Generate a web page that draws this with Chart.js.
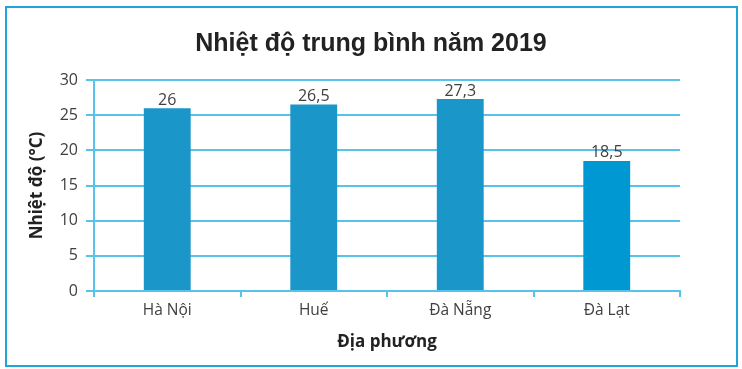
<!DOCTYPE html>
<html>
<head>
<meta charset="utf-8">
<script src="https://cdn.jsdelivr.net/npm/chart.js@4/dist/chart.umd.min.js"></script>
<style>
  html, body { margin: 0; padding: 0; background: #fff; }
  #wrap { position: relative; width: 742px; height: 369px; }
  #frame { position: absolute; left: 5px; top: 6px; width: 729px; height: 357px; border: 2px solid #1fa5d8; pointer-events: none; }
</style>
</head>
<body>
<div id="wrap">
  <canvas id="chart" width="742" height="369"></canvas>
  <div id="frame"></div>
</div>
<script>
// Average temperature 2019 by location
const categories = ["Hà Nội", "Huế", "Đà Nẵng", "Đà Lạt"];
const temps = [26, 26.5, 27.3, 18.5];
const barColors = ["#1b96c8", "#1b96c8", "#1b96c8", "#0098d3"];
const yTicks = [0, 5, 10, 15, 20, 25, 30];

const fmtVN = (n) => String(n).replace(".", ",");
const gridBlue = "#58c3ea";
const textGrey = "#404040";

// labels on top of bars
const valueLabels = {
  id: "valueLabels",
  afterDatasetsDraw(chart) {
    const { ctx } = chart;
    const meta = chart.getDatasetMeta(0);
    ctx.save();
    ctx.font = "16px 'Open Sans'";
    ctx.fillStyle = textGrey;
    ctx.textAlign = "center";
    ctx.textBaseline = "bottom";
    meta.data.forEach((bar, i) => {
      ctx.fillText(fmtVN(temps[i]), bar.x, bar.y);
    });
    ctx.restore();
  }
};

new Chart(document.getElementById("chart"), {
  type: "bar",
  data: {
    labels: categories,
    datasets: [{
      data: temps,
      backgroundColor: barColors,
      barPercentage: 0.32,
      categoryPercentage: 1
    }]
  },
  options: {
    responsive: false,
    animation: false,
    layout: { padding: { left: 20, right: 20, top: 10, bottom: 13 } },
    plugins: {
      legend: { display: false },
      tooltip: { enabled: false },
      title: {
        display: true,
        text: "Nhiệt độ trung bình năm 2019",
        color: "#222",
        font: { family: "'Liberation Sans', Arial", size: 25, weight: "bold" },
        padding: { top: 19, bottom: 21 }
      }
    },
    scales: {
      x: {
        grid: { display: true, drawOnChartArea: false, drawTicks: true, tickLength: 6, color: gridBlue, lineWidth: 2, offset: true },
        border: { color: gridBlue, width: 2 },
        ticks: { color: textGrey, font: { family: "'Open Sans'", size: 15.5 }, padding: 4 },
        title: {
          display: true,
          text: "Địa phương",
          color: "#222",
          font: { family: "'Open Sans'", size: 17, weight: "bold" },
          padding: { top: 8, bottom: 4 }
        }
      },
      y: {
        min: 0,
        max: 30,
        afterBuildTicks: (scale) => { scale.ticks = yTicks.map(v => ({ value: v })); },
        afterFit: (scale) => { scale.width = 74; },
        grid: { color: gridBlue, lineWidth: 2, tickLength: 8 },
        border: { color: gridBlue, width: 2 },
        ticks: { color: textGrey, font: { family: "'Open Sans'", size: 16 }, padding: 8 },
        title: {
          display: true,
          text: "Nhiệt độ (°C)",
          color: "#222",
          font: { family: "'Open Sans'", size: 17, weight: "bold" },
          padding: { top: 7, bottom: 0 }
        }
      },
      // spacer on the right so the title stays centred on the frame
      yRight: {
        position: "right",
        display: true,
        grid: { display: false },
        border: { display: false },
        ticks: { display: false },
        afterFit: (scale) => { scale.width = 42; }
      }
    }
  },
  plugins: [valueLabels]
});
</script>
</body>
</html>
